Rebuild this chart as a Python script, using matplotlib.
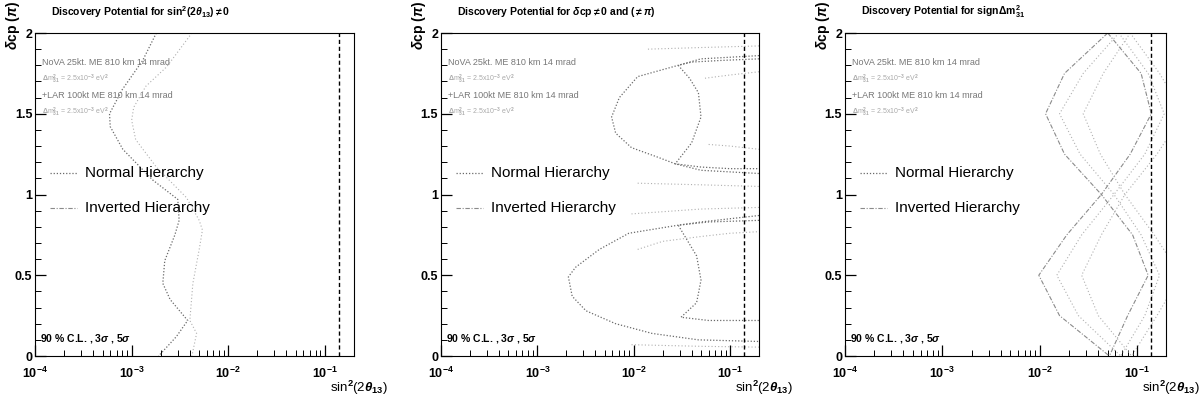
import matplotlib.pyplot as plt
from matplotlib.ticker import LogLocator, MultipleLocator, FixedLocator, NullFormatter

plt.rcParams['font.family'] = ['Liberation Sans Narrow', 'Liberation Sans', 'DejaVu Sans']
plt.rcParams['mathtext.fontset'] = 'custom'
plt.rcParams['mathtext.rm'] = 'Liberation Sans:bold'
plt.rcParams['mathtext.it'] = 'Liberation Sans:italic:bold'
plt.rcParams['mathtext.bf'] = 'Liberation Sans:bold'

# ---- axis / text content ----
titles = [r'Discovery Potential for sin$^2$(2$\theta_{13}$)$\neq$0',
          r'Discovery Potential for $\delta$cp$\neq$0 and ($\neq\pi$)',
          r'Discovery Potential for sign$\Delta$m$^2_{31}$']
x_ticks = [1e-4, 1e-3, 1e-2, 1e-1]
x_tick_labels = [r'$10^{-4}$', r'$10^{-3}$', r'$10^{-2}$', r'$10^{-1}$']
y_ticks = [0, 0.5, 1, 1.5, 2]
y_tick_labels = ['0', '0.5', '1', '1.5', '2']
info_lines = ['NoVA 25kt. ME 810 km 14 mrad',
              r'$\Delta$m$^2_{31}$ = 2.5x10$^{-3}$ eV$^2$',
              '+LAR 100kt ME 810 km 14 mrad',
              r'$\Delta$m$^2_{31}$ = 2.5x10$^{-3}$ eV$^2$']
legend_labels = ['Normal Hierarchy', 'Inverted Hierarchy']
cl_label = r'90 % C.L. , 3$\sigma$ , 5$\sigma$'
sin2_limit = 0.14

# ---- panel 1: sin^2(2theta13) discovery ----
p1_nh_delta = [2.0, 1.83, 1.65, 1.5, 1.42, 1.28, 1.09, 0.97, 0.84, 0.75, 0.59, 0.45, 0.35, 0.22, 0.12, 0.0]
p1_nh_sin = [0.0018, 0.0013, 0.0008, 0.00059, 0.0006, 0.00081, 0.00165, 0.0030, 0.0031, 0.0028, 0.0022, 0.0021, 0.0025, 0.0038, 0.0029, 0.0019]
p1_ih_delta = [2.0, 1.79, 1.67, 1.54, 1.46, 1.34, 1.17, 0.98, 0.84, 0.78, 0.66, 0.45, 0.30, 0.22, 0.14, 0.0]
p1_ih_sin = [0.0042, 0.0023, 0.0014, 0.00105, 0.001, 0.0011, 0.0018, 0.0037, 0.005, 0.0054, 0.005, 0.0043, 0.0041, 0.0040, 0.0047, 0.0042]

# ---- panel 2: CP violation discovery ----
p2_nh_outer_sin = [0.2, 0.1, 0.05, 0.029, 0.011, 0.0071, 0.0059, 0.0065, 0.0095, 0.018, 0.027, 0.05, 0.1, 0.2]
p2_nh_outer_delta = [1.86, 1.85, 1.84, 1.80, 1.73, 1.60, 1.48, 1.38, 1.29, 1.23, 1.19, 1.15, 1.14, 1.13]
p2_nh_inner_sin = [0.2, 0.08, 0.04, 0.029, 0.038, 0.047, 0.050, 0.040, 0.027, 0.05, 0.1, 0.2]
p2_nh_inner_delta = [1.84, 1.83, 1.82, 1.80, 1.72, 1.63, 1.48, 1.32, 1.19, 1.17, 1.16, 1.16]
p2_nh_5s_top_sin = [0.2, 0.1, 0.055]
p2_nh_5s_top_delta = [1.76, 1.74, 1.72]
p2_nh_5s_bot_sin = [0.06, 0.1, 0.2]
p2_nh_5s_bot_delta = [1.31, 1.30, 1.28]
p2_nh_wide_top_sin = [0.2, 0.05, 0.014]
p2_nh_wide_top_delta = [1.92, 1.91, 1.90]
p2_nh_wide_bot_sin = [0.011, 0.05, 0.2]
p2_nh_wide_bot_delta = [1.07, 1.06, 1.05]
p2_ih_outer_sin = [0.2, 0.1, 0.05, 0.029, 0.0089, 0.0044, 0.0025, 0.0021, 0.0023, 0.0032, 0.0065, 0.0155, 0.047, 0.2]
p2_ih_outer_delta = [0.87, 0.85, 0.83, 0.81, 0.76, 0.66, 0.55, 0.49, 0.37, 0.28, 0.20, 0.14, 0.10, 0.09]
p2_ih_inner_sin = [0.2, 0.06, 0.029, 0.045, 0.050, 0.045, 0.031, 0.06, 0.2]
p2_ih_inner_delta = [0.84, 0.83, 0.81, 0.62, 0.47, 0.33, 0.24, 0.22, 0.22]
p2_ih_5s_sin = [0.011, 0.02, 0.05, 0.1, 0.2]
p2_ih_5s_delta = [0.66, 0.71, 0.74, 0.76, 0.77]
p2_ih_wide_top_sin = [0.2, 0.05, 0.0095]
p2_ih_wide_top_delta = [0.92, 0.91, 0.88]
p2_ih_wide_bot_sin = [0.0095, 0.05, 0.2]
p2_ih_wide_bot_delta = [0.07, 0.06, 0.055]

# ---- panel 3: mass hierarchy discovery ----
p3_delta = [2.0, 1.75, 1.5, 1.25, 1.0, 0.75, 0.5, 0.25, 0.0]
p3_nh_left = [0.050, 0.018, 0.0115, 0.018, 0.043, 0.019, 0.0098, 0.016, 0.052]
p3_nh_right = [0.050, 0.11, 0.14, 0.085, 0.043, 0.09, 0.13, 0.08, 0.052]
p3_ih_left = [0.065, 0.028, 0.016, 0.026, 0.058, 0.027, 0.015, 0.025, 0.068]
p3_ih_right = [0.065, 0.13, 0.19, 0.12, 0.058, 0.11, 0.17, 0.12, 0.068]
p3_5s_left = [0.085, 0.045, 0.028, 0.042, 0.075, 0.043, 0.027, 0.04, 0.088]
p3_5s_right = [0.085, 0.17, 0.3, 0.16, 0.075, 0.15, 0.28, 0.16, 0.088]

NH = dict(ls=(0, (1, 1.5)), color='#6a6a6a', lw=0.9)
IH = dict(ls=(0, (4, 1.5, 1, 1.5)), color='#8a8a8a', lw=0.8)
FAINT = dict(ls=(0, (1, 2)), color='#b0b0b0', lw=0.8)

panel_curves = [
    [(p1_nh_sin, p1_nh_delta, NH), (p1_ih_sin, p1_ih_delta, FAINT)],
    [(p2_nh_outer_sin, p2_nh_outer_delta, NH), (p2_nh_inner_sin, p2_nh_inner_delta, NH),
     (p2_nh_5s_top_sin, p2_nh_5s_top_delta, FAINT), (p2_nh_5s_bot_sin, p2_nh_5s_bot_delta, FAINT),
     (p2_nh_wide_top_sin, p2_nh_wide_top_delta, FAINT), (p2_nh_wide_bot_sin, p2_nh_wide_bot_delta, FAINT),
     (p2_ih_outer_sin, p2_ih_outer_delta, NH), (p2_ih_inner_sin, p2_ih_inner_delta, NH),
     (p2_ih_5s_sin, p2_ih_5s_delta, FAINT),
     (p2_ih_wide_top_sin, p2_ih_wide_top_delta, FAINT), (p2_ih_wide_bot_sin, p2_ih_wide_bot_delta, FAINT)],
    [(p3_nh_left, p3_delta, IH), (p3_nh_right, p3_delta, IH),
     (p3_ih_left, p3_delta, FAINT), (p3_ih_right, p3_delta, FAINT),
     (p3_5s_left, p3_delta, FAINT), (p3_5s_right, p3_delta, FAINT)],
]

fig = plt.figure(figsize=(12, 4.03), dpi=100)
lefts = [0.0292, 0.3675, 0.704]
widths = [0.2658, 0.265, 0.268]

for i in range(3):
    ax = fig.add_axes([lefts[i], 0.1166, widths[i], 0.8015])
    for xs, ds, st in panel_curves[i]:
        ax.plot(xs, ds, **st)
    ax.axvline(sin2_limit, color='k', ls=(0, (3, 2)), lw=1.0)

    ax.set_xscale('log')
    ax.set_xlim(1e-4, 0.2)
    ax.set_ylim(0, 2)
    ax.xaxis.set_major_locator(FixedLocator(x_ticks))
    ax.set_xticklabels(x_tick_labels)
    ax.xaxis.set_minor_locator(LogLocator(base=10, subs=range(2, 10)))
    ax.xaxis.set_minor_formatter(NullFormatter())
    ax.set_yticks(y_ticks)
    ax.set_yticklabels(y_tick_labels, fontweight='bold')
    ax.yaxis.set_minor_locator(MultipleLocator(0.1))
    ax.tick_params(which='major', direction='in', length=8, width=0.9, labelsize=9)
    ax.tick_params(axis='x', which='major', pad=7)
    ax.tick_params(axis='y', which='major', pad=2)
    ax.tick_params(which='minor', direction='in', length=4, width=0.7)
    for s in ax.spines.values():
        s.set_linewidth(0.8)

    ax.text(0.05, 1.065, titles[i], transform=ax.transAxes, fontsize=7.5,
            fontweight='bold', va='center', ha='left')
    ax.text(-0.068, 1.1, r'$\delta$cp ($\pi$)', transform=ax.transAxes, rotation=90,
            fontsize=10, fontweight='bold', ha='center', va='top')
    ax.text(0.925, -0.1, r'sin$^2$(2$\theta_{13}$)', transform=ax.transAxes,
            fontsize=9.5, ha='left', va='center')

    for j, (txt, yy) in enumerate(zip(info_lines, [0.91, 0.855, 0.808, 0.755])):
        ax.text(0.022, yy, txt, transform=ax.transAxes, ha='left', va='center',
                fontsize=6.5 if j % 2 == 0 else 5, color='#777777' if j % 2 == 0 else '#aaaaaa')

    ax.plot([0.047, 0.132], [0.567, 0.567], transform=ax.transAxes, **NH)
    ax.plot([0.047, 0.132], [0.458, 0.458], transform=ax.transAxes, **IH)
    ax.text(0.157, 0.567, legend_labels[0], transform=ax.transAxes, fontsize=11,
            ha='left', va='center')
    ax.text(0.157, 0.458, legend_labels[1], transform=ax.transAxes, fontsize=11,
            ha='left', va='center')
    ax.text(0.016, 0.034, cl_label, transform=ax.transAxes, fontsize=7.5,
            fontweight='bold', ha='left', va='bottom')

fig.savefig('out.png', dpi=100)
